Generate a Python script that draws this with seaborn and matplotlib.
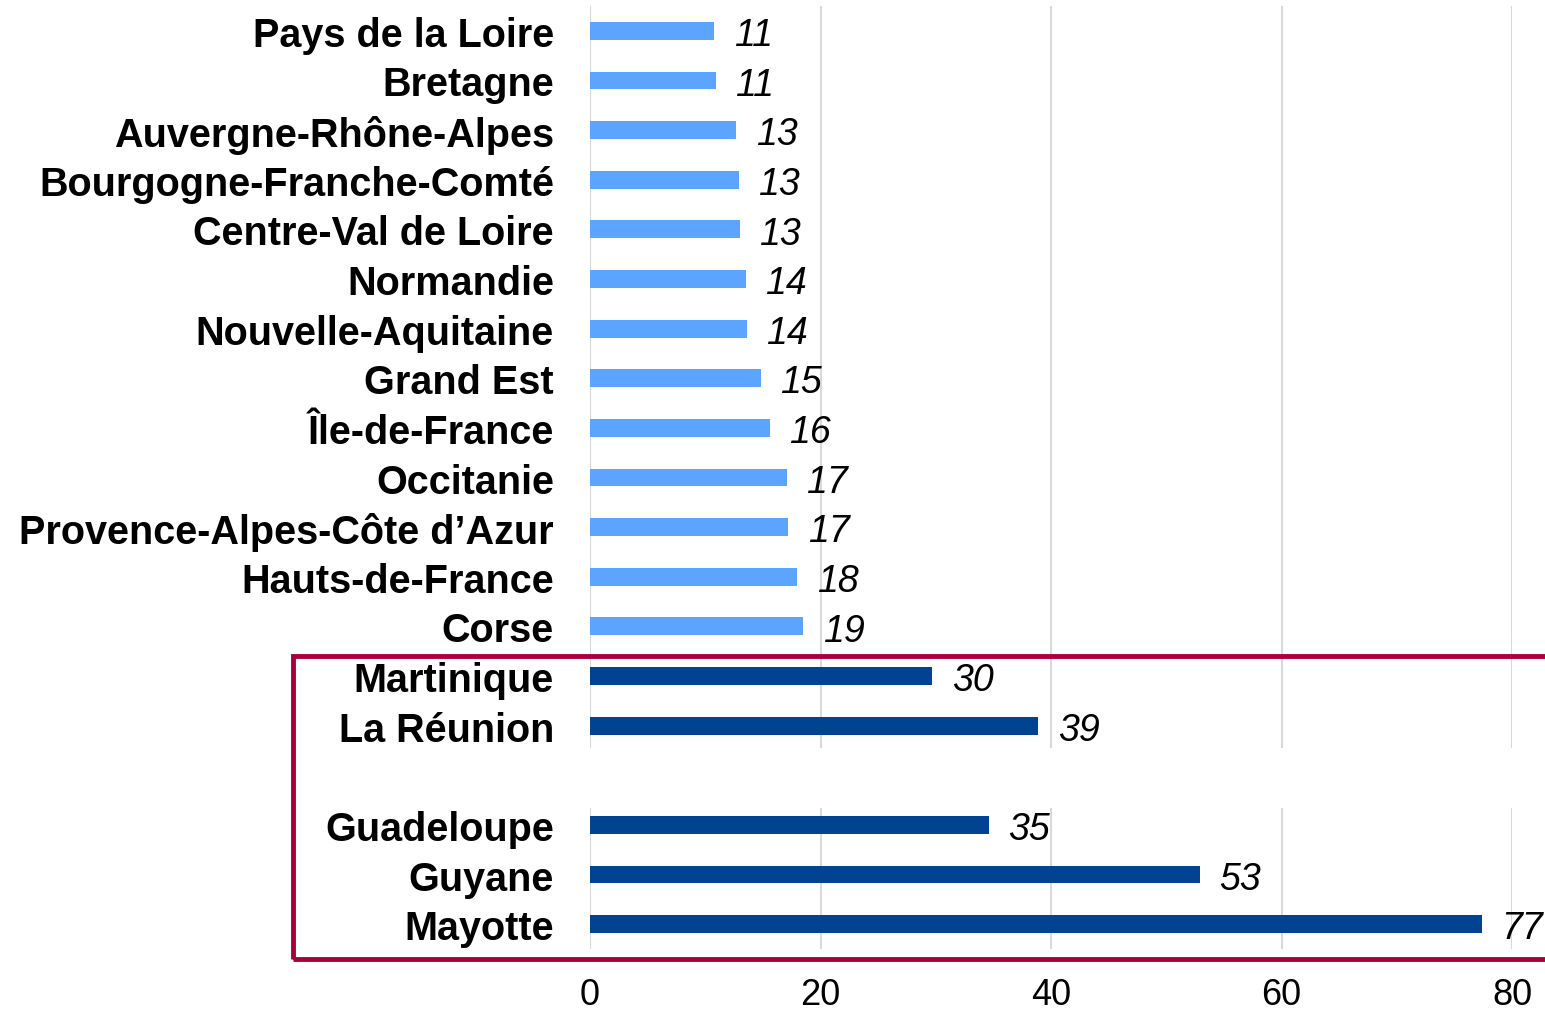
import numpy as np
import pandas as pd
import matplotlib
matplotlib.use("Agg")
import matplotlib.pyplot as plt
import seaborn as sns
from matplotlib.patches import Rectangle

regions = ["Pays de la Loire", "Bretagne", "Auvergne-Rhône-Alpes", "Bourgogne-Franche-Comté",
           "Centre-Val de Loire", "Normandie", "Nouvelle-Aquitaine", "Grand Est", "Île-de-France",
           "Occitanie", "Provence-Alpes-Côte d’Azur", "Hauts-de-France", "Corse",
           "Martinique", "La Réunion", " ", "Guadeloupe", "Guyane", "Mayotte"]
values = [10.8, 10.9, 12.7, 12.9, 13.0, 13.5, 13.6, 14.8, 15.6, 17.1, 17.2, 18.0, 18.5,
          29.7, 38.9, 0, 34.6, 52.9, 77.4]
labels = ["11", "11", "13", "13", "13", "14", "14", "15", "16", "17", "17", "18", "19",
          "30", "39", "", "35", "53", "77"]
groups = ["metro"] * 13 + ["drom"] * 6

df = pd.DataFrame({"region": regions, "valeur": values, "groupe": groups})
palette = {"metro": "#5BA4FF", "drom": "#004391"}

sns.set_style("white")
plt.rcParams["font.family"] = ["Liberation Sans", "DejaVu Sans"]
plt.rcParams["text.color"] = "black"
plt.rcParams["xtick.color"] = "black"
plt.rcParams["ytick.color"] = "black"

fig = plt.figure(figsize=(15.45, 10.12), dpi=100)
ax = fig.add_axes([590 / 1545, 1 - 950 / 1012, (1512 - 590) / 1545, (950 - 7) / 1012])

sns.barplot(data=df, x="valeur", y="region", hue="groupe", palette=palette, dodge=False,
            width=0.36, legend=False, ax=ax, orient="h", linewidth=0, saturation=1)

ax.set_xlim(0, 80)
ax.set_ylim(18.5, -0.5)
ax.set_xticks([0, 20, 40, 60, 80])
ax.xaxis.grid(True, color="#D9D9D9", lw=1.5)
ax.yaxis.grid(False)
ax.set_axisbelow(True)
for s in ax.spines.values():
    s.set_visible(False)
ax.set_xlabel("")
ax.set_ylabel("")

# blank band for the empty row
ax.axhspan(14.45, 15.65, color="white", zorder=0.9, lw=0)

ax.tick_params(axis="y", length=0, pad=26)
ax.tick_params(axis="x", length=0, pad=20)
for t in ax.get_yticklabels():
    t.set_fontsize(28.5)
    t.set_fontweight("bold")
for t in ax.get_xticklabels():
    t.set_fontsize(26)

for i, (v, lbl) in enumerate(zip(values, labels)):
    if lbl:
        ax.annotate(lbl, xy=(v, i), xytext=(14, -3), textcoords="offset points",
                    va="center", ha="left", fontsize=27, style="italic", annotation_clip=False)

fig.add_artist(Rectangle((293 / 1545, 1 - 960 / 1012), 1.0, (960 - 657) / 1012,
                         transform=fig.transFigure, fill=False, edgecolor="#A8003C",
                         lw=3.5, clip_on=False))

fig.savefig("out.png", dpi=100)
